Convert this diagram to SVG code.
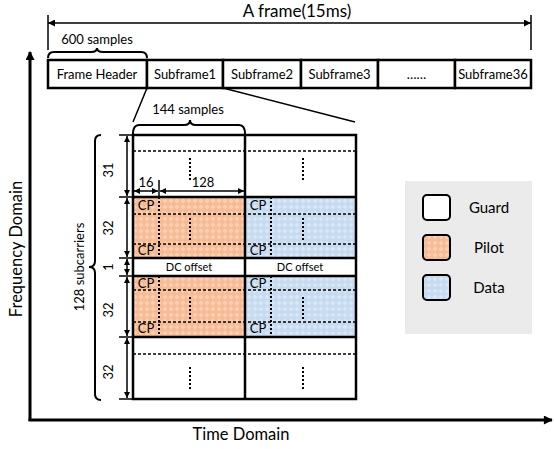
<svg xmlns="http://www.w3.org/2000/svg" width="554" height="449" viewBox="0 0 554 449">
<style>
text{font-family:Lato,"Liberation Sans",sans-serif;fill:#000}
.box{fill:#fff;stroke:#000;stroke-width:2.5}
.thin{stroke:#000;stroke-width:1.5;fill:none}
.dash{stroke:#000;stroke-width:1.5;stroke-dasharray:3 2;fill:none}
.dot{stroke:#000;stroke-width:2;stroke-dasharray:2 2;fill:none}
.grid{stroke:#000;stroke-width:2.5;fill:none}
.brace{stroke:#000;stroke-width:2;fill:none}
.dim{stroke:#000;stroke-width:1.5;fill:none;marker-start:url(#ah);marker-end:url(#ah)}
.axis{stroke:#000;stroke-width:3;fill:none}
.f13{font-size:13px}
.mid{text-anchor:middle}
</style>
<defs>
<marker id="ah" viewBox="0 0 10 10" refX="10" refY="5" markerWidth="6" markerHeight="6" markerUnits="userSpaceOnUse" orient="auto-start-reverse"><path d="M0,0 L10,5 L0,10 z" fill="#000"/></marker>
<marker id="axh" viewBox="0 0 10 10" refX="9" refY="5" markerWidth="10" markerHeight="9" markerUnits="userSpaceOnUse" orient="auto"><path d="M0,0 L10,5 L0,10 z" fill="#000"/></marker>
<marker id="th" viewBox="0 0 10 10" refX="10" refY="5" markerWidth="9" markerHeight="7" markerUnits="userSpaceOnUse" orient="auto-start-reverse"><path d="M0,0 L10,5 L0,10 z" fill="#000"/></marker>
<pattern id="pilotPat" width="6" height="6" patternUnits="userSpaceOnUse"><rect width="6" height="6" fill="#f6bb94"/><path d="M3,0.5 L5.5,3 L3,5.5 L0.5,3 z" fill="#fad0b3"/></pattern>
<pattern id="dataPat" width="6" height="6" patternUnits="userSpaceOnUse"><rect width="6" height="6" fill="#c6dbef"/><path d="M3,0.5 L5.5,3 L3,5.5 L0.5,3 z" fill="#d8e7f6"/></pattern>
</defs>

<g id="axes">
<line class="axis" x1="30" y1="421" x2="30" y2="52" marker-end="url(#axh)"/>
<line class="axis" x1="28.5" y1="420" x2="552" y2="420" marker-end="url(#axh)"/>
<text x="0" y="0" font-size="16.5" class="mid" transform="translate(22,249) rotate(-90)">Frequency Domain</text>
<text x="241" y="440" font-size="16.5" class="mid">Time Domain</text>
</g>

<g id="frame-span">
<line class="thin" x1="48" y1="15" x2="48" y2="50"/>
<line class="thin" x1="531" y1="15" x2="531" y2="50"/>
<line x1="48" y1="23" x2="531" y2="23" stroke="#000" stroke-width="1.5" marker-start="url(#th)" marker-end="url(#th)"/>
<text x="297" y="17" font-size="17" class="mid">A frame(15ms)</text>
</g>

<g id="frame">
<g id="frame-header"><rect class="box" x="48" y="60" width="99" height="28"/><text x="97" y="79" class="f13 mid">Frame Header</text></g>
<g id="subframe1"><rect class="box" x="147" y="60" width="76" height="28"/><text x="185" y="79" class="f13 mid">Subframe1</text></g>
<g id="subframe2"><rect class="box" x="223" y="60" width="78" height="28"/><text x="262" y="79" class="f13 mid">Subframe2</text></g>
<g id="subframe3"><rect class="box" x="301" y="60" width="77" height="28"/><text x="339.5" y="79" class="f13 mid">Subframe3</text></g>
<g id="subframe-dots"><rect class="box" x="378" y="60" width="77" height="28"/><text x="416.5" y="79" class="f13 mid">……</text></g>
<g id="subframe36"><rect class="box" x="455" y="60" width="76" height="28"/><text x="493" y="79" class="f13 mid">Subframe36</text></g>
</g>

<g id="brace-600">
<path class="brace" d="M48,58 Q48,52 54,52 L91,52 Q97,52 97,48 Q97,52 103,52 L141,52 Q147,52 147,58"/>
<text x="97" y="44" class="f13 mid">600 samples</text>
</g>

<g id="connectors">
<line class="thin" x1="147" y1="88" x2="133" y2="122"/>
<line class="thin" x1="223" y1="88" x2="355" y2="122"/>
</g>

<g id="brace-144">
<path class="brace" d="M133,134 Q133,125 139,125 L184,125 Q190,125 190,120 Q190,125 196,125 L239,125 Q245,125 245,134"/>
<text x="188" y="114" class="f13 mid">144 samples</text>
</g>

<g id="grid">
<rect x="133" y="197" width="112" height="61" fill="url(#pilotPat)"/>
<rect x="133" y="276" width="112" height="61" fill="url(#pilotPat)"/>
<rect x="245" y="197" width="111" height="61" fill="url(#dataPat)"/>
<rect x="245" y="276" width="111" height="61" fill="url(#dataPat)"/>
<rect x="133" y="135" width="223" height="62" fill="#fff"/>
<rect x="133" y="258" width="223" height="18" fill="#fff"/>
<rect x="133" y="337" width="223" height="62" fill="#fff"/>

<line class="dash" x1="133" y1="151" x2="356" y2="151"/>
<line class="dash" x1="133" y1="214" x2="356" y2="214"/>
<line class="dash" x1="133" y1="244" x2="356" y2="244"/>
<line class="dash" x1="133" y1="290" x2="356" y2="290"/>
<line class="dash" x1="133" y1="322" x2="356" y2="322"/>
<line class="dash" x1="133" y1="354" x2="356" y2="354"/>

<line class="dot" x1="159" y1="197" x2="159" y2="258"/>
<line class="dot" x1="159" y1="276" x2="159" y2="337"/>
<line class="dot" x1="271" y1="197" x2="271" y2="258"/>
<line class="dot" x1="271" y1="276" x2="271" y2="337"/>

<line class="dot" x1="190" y1="158" x2="190" y2="182"/>
<line class="dot" x1="303" y1="158" x2="303" y2="182"/>
<line class="dot" x1="190" y1="218" x2="190" y2="242"/>
<line class="dot" x1="303" y1="218" x2="303" y2="242"/>
<line class="dot" x1="190" y1="297" x2="190" y2="320"/>
<line class="dot" x1="303" y1="297" x2="303" y2="320"/>
<line class="dot" x1="190" y1="367" x2="190" y2="391"/>
<line class="dot" x1="303" y1="367" x2="303" y2="391"/>

<rect class="grid" x="133" y="135" width="223" height="264"/>
<line class="grid" x1="133" y1="197" x2="356" y2="197"/>
<line class="grid" x1="133" y1="258" x2="356" y2="258"/>
<line class="grid" x1="133" y1="276" x2="356" y2="276"/>
<line class="grid" x1="133" y1="337" x2="356" y2="337"/>
<line class="grid" x1="245" y1="135" x2="245" y2="399"/>

<text x="146" y="210" class="f13 mid">CP</text>
<text x="146" y="255" class="f13 mid">CP</text>
<text x="146" y="288" class="f13 mid">CP</text>
<text x="146" y="333" class="f13 mid">CP</text>
<text x="258" y="210" class="f13 mid">CP</text>
<text x="258" y="255" class="f13 mid">CP</text>
<text x="258" y="288" class="f13 mid">CP</text>
<text x="258" y="333" class="f13 mid">CP</text>
<text x="189" y="271" font-size="11" class="mid">DC offset</text>
<text x="300" y="271" font-size="11" class="mid">DC offset</text>
</g>

<g id="dim-horizontal">
<line class="thin" x1="159" y1="180" x2="159" y2="197"/>
<line class="dim" x1="134" y1="191" x2="158" y2="191"/>
<line class="dim" x1="160" y1="191" x2="244" y2="191"/>
<text x="146" y="187" class="f13 mid">16</text>
<text x="203" y="187" class="f13 mid">128</text>
</g>

<g id="dim-vertical">
<line class="thin" x1="119" y1="135" x2="133" y2="135"/>
<line class="thin" x1="119" y1="197" x2="133" y2="197"/>
<line class="thin" x1="119" y1="258" x2="133" y2="258"/>
<line class="thin" x1="119" y1="276" x2="133" y2="276"/>
<line class="thin" x1="119" y1="337" x2="133" y2="337"/>
<line class="thin" x1="119" y1="399" x2="133" y2="399"/>
<line class="dim" x1="127" y1="136" x2="127" y2="196"/>
<line class="dim" x1="127" y1="198" x2="127" y2="257"/>
<line class="dim" x1="127" y1="259" x2="127" y2="275"/>
<line class="dim" x1="127" y1="277" x2="127" y2="336"/>
<line class="dim" x1="127" y1="338" x2="127" y2="398"/>
<text class="f13 mid" transform="translate(113,170) rotate(-90)">31</text>
<text class="f13 mid" transform="translate(113,228) rotate(-90)">32</text>
<text class="f13 mid" transform="translate(113,267) rotate(-90)">1</text>
<text class="f13 mid" transform="translate(113,310) rotate(-90)">32</text>
<text class="f13 mid" transform="translate(113,372) rotate(-90)">32</text>
</g>

<g id="brace-128">
<path class="brace" d="M101,135 Q95,135 95,141 L95,261 Q95,267 89,267 Q95,267 95,273 L95,394 Q95,400 101,400"/>
<text class="f13 mid" transform="translate(84,267) rotate(-90)">128 subcarriers</text>
</g>

<g id="legend">
<rect x="405" y="181" width="127" height="153" fill="#ebebeb"/>
<rect x="423" y="195" width="27" height="25" rx="4" fill="#fff" stroke="#000" stroke-width="2"/>
<rect x="423" y="235" width="27" height="25" rx="4" fill="url(#pilotPat)" stroke="#000" stroke-width="2"/>
<rect x="423" y="275" width="27" height="25" rx="4" fill="url(#dataPat)" stroke="#000" stroke-width="2"/>
<text x="489" y="213" font-size="15" class="mid">Guard</text>
<text x="489" y="253" font-size="15" class="mid">Pilot</text>
<text x="489" y="293" font-size="15" class="mid">Data</text>
</g>
</svg>
